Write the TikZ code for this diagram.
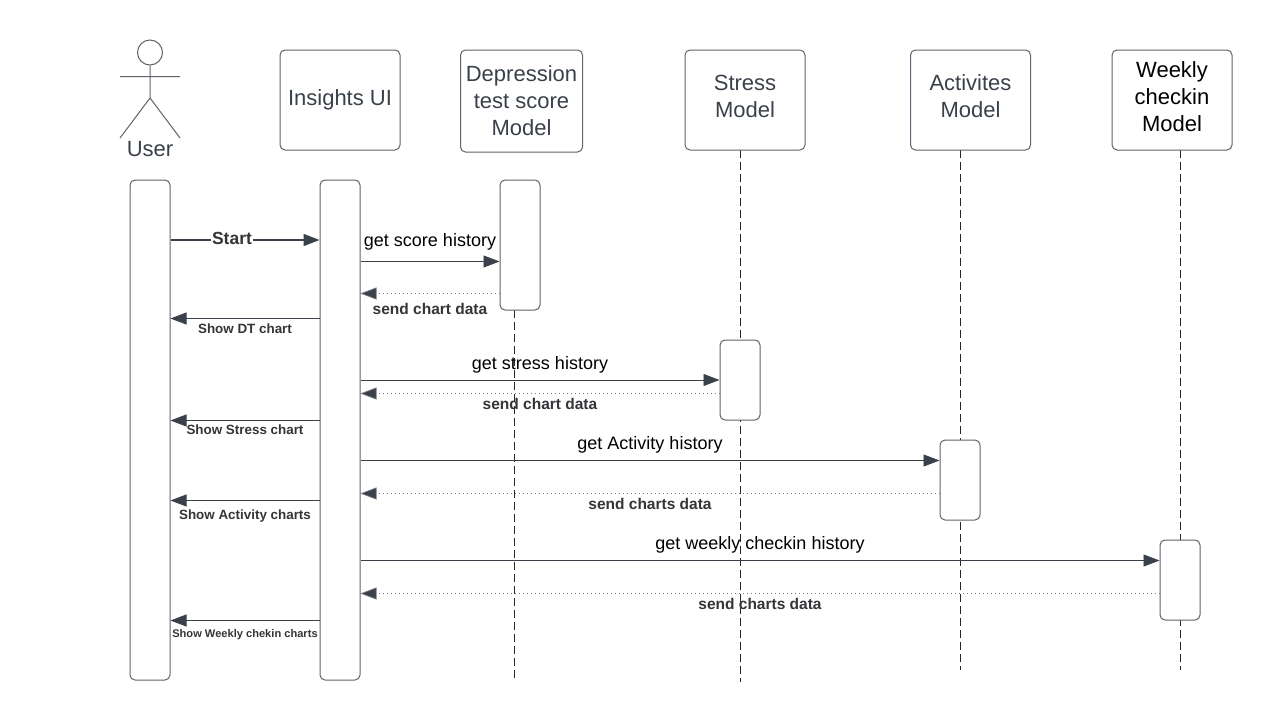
\documentclass[tikz,border=0pt]{standalone}
\usepackage{fontspec}
\setmainfont{Liberation Sans}
\usetikzlibrary{arrows.meta}
\definecolor{ln}{HTML}{5F636C}
\definecolor{ink}{HTML}{3A414A}
\definecolor{head}{HTML}{3A414A}
\definecolor{bink}{HTML}{333538}
\tikzset{
 x=1pt,y=-1pt,
 obj/.style={draw=ln,line width=1pt,rounded corners=5pt,fill=white,inner sep=0pt,align=center},
 objtext/.style={inner sep=0pt,align=center,text=ink,font=\fontsize{22}{27}\selectfont},
 act/.style={draw=ln,line width=1pt,rounded corners=5pt,fill=white,inner sep=0pt,minimum width=40pt},
 life/.style={draw=black!85,line width=0.9pt,dash pattern=on 8pt off 4pt},
 msg/.style={draw=ink,line width=0.9pt,-{Triangle[length=16pt,width=12pt,fill=head]}},
 ret/.style={draw=ink!70,line width=0.7pt,dash pattern=on 1pt off 3pt,-{Triangle[length=16pt,width=12pt,fill=head]}},
 blk/.style={inner sep=0pt,text=black,font=\fontsize{18}{20}\selectfont},
 bld/.style={inner sep=0pt,text=bink,font=\fontsize{15.5}{17}\selectfont\bfseries},
 shw/.style={inner sep=0pt,text=bink,font=\fontsize{13.4}{15}\selectfont\bfseries},
}
\begin{document}
\begin{tikzpicture}
\useasboundingbox[fill=white] (0,0) rectangle (1272,720);
% lifelines
\coordinate (depTop) at (514.5,310);
\coordinate (depEnd) at (514.5,682);
\coordinate (stTop) at (740.5,150);
\coordinate (stEnd) at (740.5,682);
\coordinate (acTop) at (960.5,150);
\coordinate (acEnd) at (960.5,670);
\coordinate (wkTop) at (1180,150);
\coordinate (wkEnd) at (1180,670);
\draw[life] (depTop) -- (depEnd);
\draw[life] (stTop) -- (stEnd);
\draw[life] (acTop) -- (acEnd);
\draw[life] (wkTop) -- (wkEnd);
% objects
\node[obj,minimum width=120pt,minimum height=100pt] (ui) at (340,100) {};
\node[objtext] (uilabel) at (340,99.5) {Insights UI};
\node[obj,minimum width=122pt,minimum height=102pt] (dep) at (521.5,101) {};
\node[objtext] (deplabel) at (521.5,101) {Depression\\test score\\Model};
\node[obj,minimum width=120pt,minimum height=100pt] (st) at (745,100) {};
\node[objtext] (stlabel) at (745,96) {Stress\\Model};
\node[obj,minimum width=120pt,minimum height=100pt] (ac) at (970.5,100) {};
\node[objtext] (aclabel) at (970.5,96) {Activites\\Model};
\node[obj,minimum width=120pt,minimum height=100pt] (wk) at (1172,100) {};
\node[objtext,text=black] (wklabel) at (1172,97) {Weekly\\checkin\\Model};
% actor
\node[draw=ln,line width=1pt,circle,minimum size=25pt,inner sep=0pt] (head) at (150,52.5) {};
\coordinate (hip) at (150,98);
\coordinate (armL) at (120,76.5);
\coordinate (armR) at (180,76.5);
\coordinate (footL) at (120,138);
\coordinate (footR) at (180,138);
\draw[ln,line width=1pt] (head.south) -- (hip) (armL) -- (armR) (footL) -- (hip) -- (footR);
\node[objtext] (userlabel) at (150,149) {User};
% activations
\node[act,minimum height=500pt] (a1) at (150,430) {};
\node[act,minimum height=500pt] (a2) at (340,430) {};
\node[act,minimum height=130pt] (a3) at (520,245) {};
\node[act,minimum height=80pt] (a4) at (740,380) {};
\node[act,minimum height=80pt] (a5) at (960,480) {};
\node[act,minimum height=80pt] (a6) at (1180,580) {};
% messages
\draw[msg,line width=1.6pt] (a1.east |- 0,240) -- (a2.west |- 0,240);
\node[inner sep=1pt,fill=white,text=bink,font=\fontsize{17.5}{20}\selectfont\bfseries] (startl) at (232,238) {Start};
\draw[msg] (a2.east |- 0,261.5) -- (a3.west |- 0,261.5);
\draw[ret] (a3.west |- 0,293.5) -- (a2.east |- 0,293.5);
\draw[msg] (a2.west |- 0,318.5) -- (a1.east |- 0,318.5);
\draw[msg] (a2.east |- 0,380) -- (a4.west |- 0,380);
\draw[ret] (a4.west |- 0,393.5) -- (a2.east |- 0,393.5);
\draw[msg] (a2.west |- 0,420.5) -- (a1.east |- 0,420.5);
\draw[msg] (a2.east |- 0,460.5) -- (a5.west |- 0,460.5);
\draw[ret] (a5.west |- 0,493.5) -- (a2.east |- 0,493.5);
\draw[msg] (a2.west |- 0,500.5) -- (a1.east |- 0,500.5);
\draw[msg] (a2.east |- 0,560.5) -- (a6.west |- 0,560.5);
\draw[ret] (a6.west |- 0,593.5) -- (a2.east |- 0,593.5);
\draw[msg] (a2.west |- 0,620.5) -- (a1.east |- 0,620.5);
% labels
\node[blk] (l1) at (430,241.5) {get score history};
\node[blk] (l2) at (540,364.5) {get stress history};
\node[blk] (l3) at (650,444.5) {get Activity history};
\node[blk] (l4) at (760,544.5) {get weekly checkin history};
\node[bld] (r1) at (430,309) {send chart data};
\node[bld] (r2) at (540,404) {send chart data};
\node[bld] (r3) at (650,504) {send charts data};
\node[bld] (r4) at (760,604) {send charts data};
\node[shw] (s1) at (245,328.5) {Show DT chart};
\node[shw] (s2) at (245,430) {Show Stress chart};
\node[shw] (s3) at (245,516) {Show Activity charts};
\node[shw,font=\fontsize{11.1}{13}\selectfont\bfseries] (s4) at (245,634.5) {Show Weekly chekin charts};
\end{tikzpicture}
\end{document}
